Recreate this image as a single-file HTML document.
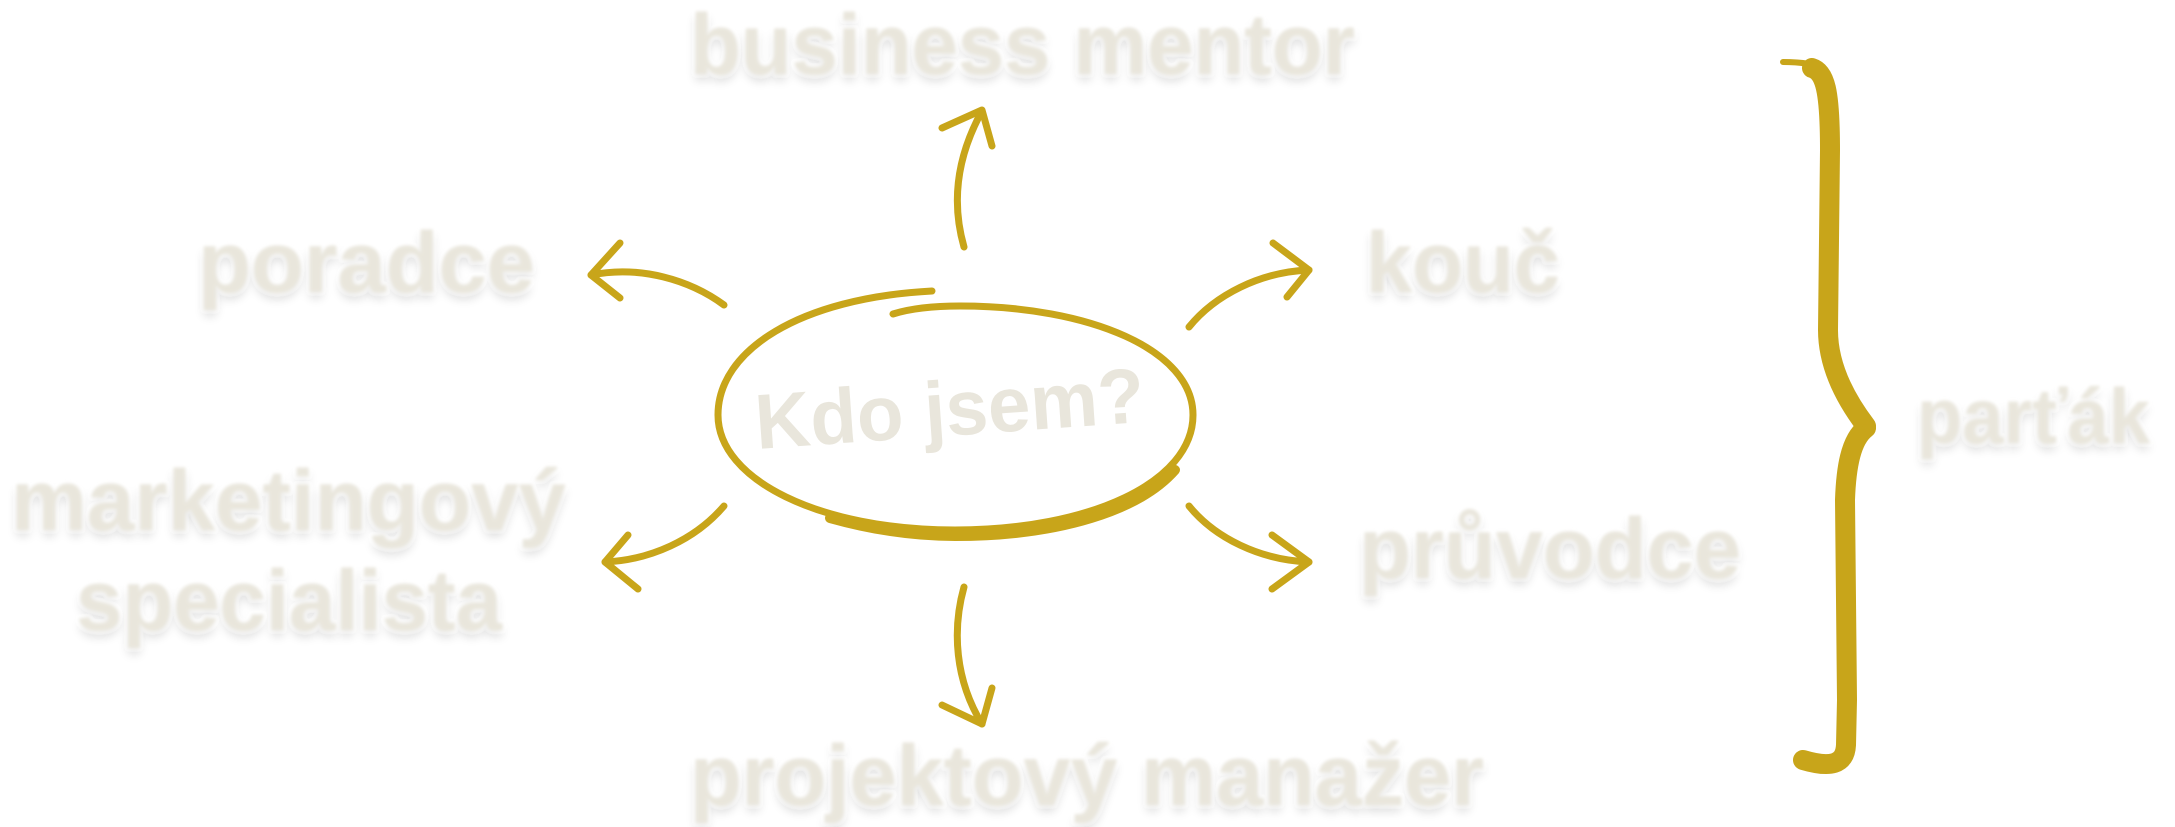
<!DOCTYPE html>
<html><head><meta charset="utf-8"><style>
html,body{margin:0;padding:0;background:#fff;}
svg{display:block;}
text{font-family:"Liberation Sans",sans-serif;fill:#e9e6dc;font-weight:bold;}
</style></head><body>
<svg width="2175" height="827" viewBox="0 0 2175 827" xmlns="http://www.w3.org/2000/svg">
<defs>
<filter id="sh" x="-10%" y="-30%" width="120%" height="160%">
<feGaussianBlur in="SourceAlpha" stdDeviation="5" result="b"/>
<feOffset dx="0" dy="6" result="o"/>
<feComponentTransfer in="o" result="s"><feFuncA type="linear" slope="0.15"/></feComponentTransfer>
<feGaussianBlur in="SourceGraphic" stdDeviation="1.5" result="g"/>
<feMerge><feMergeNode in="s"/><feMergeNode in="g"/></feMerge>
</filter>
</defs>
<g filter="url(#sh)" font-size="86">
<text x="690" y="74" textLength="665" lengthAdjust="spacingAndGlyphs">business mentor</text>
<text x="198" y="292" textLength="337" lengthAdjust="spacingAndGlyphs">poradce</text>
<text x="1366" y="292" textLength="194" lengthAdjust="spacingAndGlyphs">kouč</text>
<text x="11" y="530" textLength="555" lengthAdjust="spacingAndGlyphs">marketingový</text>
<text x="76" y="630" textLength="426" lengthAdjust="spacingAndGlyphs">specialista</text>
<text x="1359" y="578" textLength="382" lengthAdjust="spacingAndGlyphs">průvodce</text>
<text x="690" y="805" textLength="794" lengthAdjust="spacingAndGlyphs">projektový manažer</text>
<text x="1917" y="443" font-size="78" textLength="233" lengthAdjust="spacingAndGlyphs">parťák</text>
</g>
<text x="757" y="449" font-size="78" textLength="390" lengthAdjust="spacingAndGlyphs" transform="rotate(-4 757 449)">Kdo jsem?</text>
<g fill="none" stroke="#c8a51a" stroke-linecap="round" stroke-linejoin="round">
<!-- ellipse -->
<path d="M932 291 C800 298 718 350 718 415 C718 480 820 530 955 530 C1090 530 1193 482 1193 415 C1193 350 1090 306 960 306 C935 306 912 308 893 314" stroke-width="7"/>
<path d="M830 518 C880 532 920 536 955 536 C1060 536 1140 510 1175 470" stroke-width="10"/>
<!-- arrows -->
<g stroke-width="7">
<path d="M964 247 C952 205 955 160 982 111"/><path d="M942 128 L982 110 L992 146"/>
<path d="M724 305 C690 280 640 265 591 275"/><path d="M620 243 L591 275 L620 298"/>
<path d="M1189 327 C1215 295 1260 272 1309 270"/><path d="M1273 243 L1309 270 L1287 297"/>
<path d="M724 506 C695 540 650 560 605 562"/><path d="M628 535 L605 562 L638 589"/>
<path d="M1189 506 C1215 538 1260 560 1309 562"/><path d="M1272 535 L1309 562 L1272 589"/>
<path d="M964 587 C952 630 955 680 982 724"/><path d="M942 705 L982 724 L992 688"/>
</g>
<!-- brace -->
<path d="M1783 62 C1800 62 1815 64 1818 68" stroke-width="6"/>
<path d="M1812 68 C1825 72 1830 90 1830 150 L1828 330 C1828 370 1850 405 1866 426" stroke-width="20"/>
<path d="M1866 428 C1850 440 1846 470 1845 500 L1847 700 L1846 745 C1845 765 1830 768 1803 760" stroke-width="20"/>
<path d="M1866 428 L1872 428" stroke-width="8"/>
</g>
</svg>
</body></html>
